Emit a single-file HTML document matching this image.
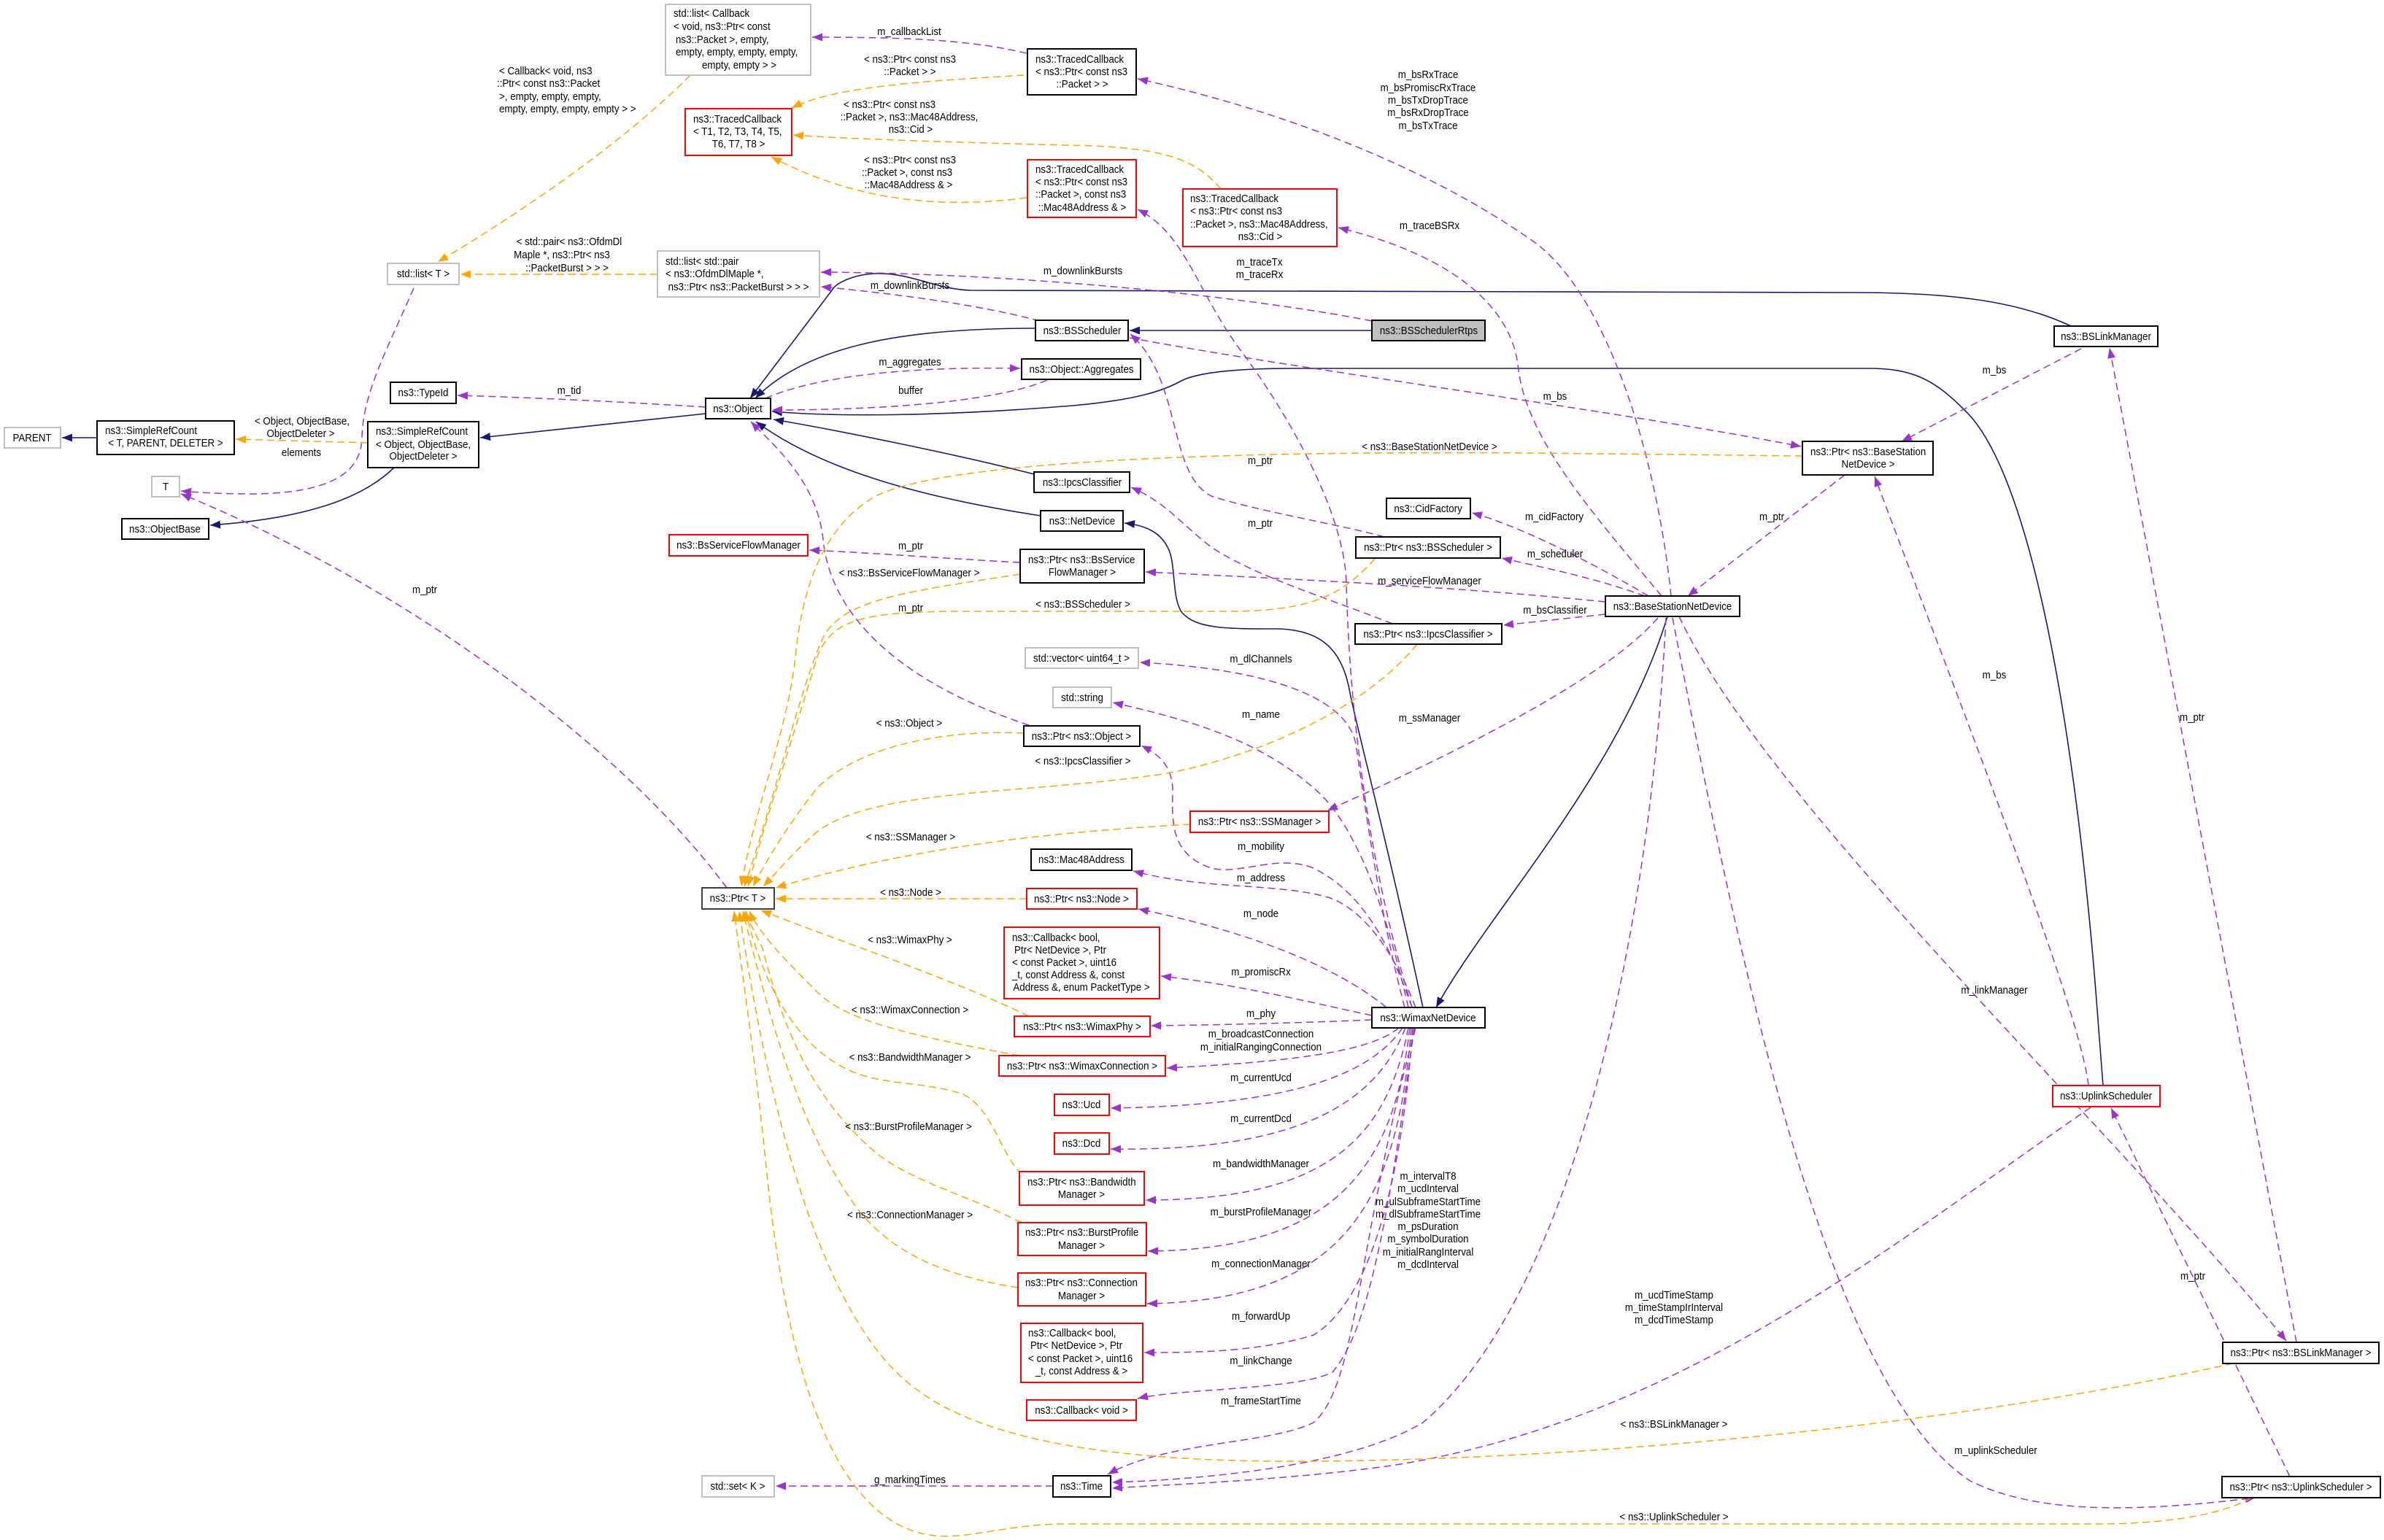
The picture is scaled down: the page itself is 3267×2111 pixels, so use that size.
<!DOCTYPE html>
<html><head><meta charset="utf-8"><style>
html,body{margin:0;padding:0;background:#fff;}
svg{display:block;}
text{font-family:"Liberation Sans",Arial,sans-serif;font-size:15px;fill:#000;}
.c{text-anchor:middle;transform-box:fill-box;transform-origin:center;transform:scaleX(.89);}
.l{text-anchor:start;transform-box:fill-box;transform-origin:left center;transform:scaleX(.89);}
.bk{fill:#fff;stroke:#000;stroke-width:2;}
.rd{fill:#fff;stroke:#ff0000;stroke-width:2;}
.gy{fill:#fff;stroke:#bfbfbf;stroke-width:2;}
.pb{fill:none;stroke:#191970;stroke-width:1.6;}
.pp{fill:none;stroke:#9a32cd;stroke-width:1.5;stroke-dasharray:10,6;}
.po{fill:none;stroke:#ffa500;stroke-width:1.5;stroke-dasharray:10,6;}
</style></head><body>
<svg width="3267" height="2111" viewBox="0 0 3267 2111" xmlns="http://www.w3.org/2000/svg">
<defs>
<marker id="mb" markerWidth="16" markerHeight="12" refX="14" refY="5.5" orient="auto" markerUnits="userSpaceOnUse"><path d="M0,0 L14,5.5 L0,11 z" fill="#191970"/></marker>
<marker id="mp" markerWidth="16" markerHeight="12" refX="14" refY="5.5" orient="auto" markerUnits="userSpaceOnUse"><path d="M0,0 L14,5.5 L0,11 z" fill="#9a32cd"/></marker>
<marker id="mo" markerWidth="16" markerHeight="12" refX="14" refY="5.5" orient="auto" markerUnits="userSpaceOnUse"><path d="M0,0 L14,5.5 L0,11 z" fill="#ffa500"/></marker>
</defs>
<rect width="3267" height="2111" fill="#fff"/>

<!-- inheritance edges -->
<g>
<path class="pb" marker-end="url(#mb)" d="M133,600 L85,600"/>
<path class="pb" marker-end="url(#mb)" d="M540,641 C490,690 400,712 288,720"/>
<path class="pb" marker-end="url(#mb)" d="M967,567 L658,600"/>
<path class="pb" marker-end="url(#mb)" d="M1419,450 C1250,450 1110,470 1035,546"/>
<path class="pb" marker-end="url(#mb)" d="M1880,453 L1548,453"/>
<path class="pb" marker-end="url(#mb)" d="M2838,447 C2760,410 2660,401 2540,401 L1330,398 C1280,396 1250,374 1200,375 C1170,376 1145,388 1140,398 L1028,546"/>
<path class="pb" marker-end="url(#mb)" d="M2882,1488 L2876,1411 C2850,1050 2790,650 2690,560 C2650,520 2620,505 2561,505 L1772,505 C1700,505 1640,510 1617,523 C1595,535 1560,548 1470,556 C1300,570 1150,572 1058,564"/>
<path class="pb" marker-end="url(#mb)" d="M1417,650 C1320,625 1150,590 1060,575"/>
<path class="pb" marker-end="url(#mb)" d="M1426,707 C1250,680 1120,640 1036,578"/>
<path class="pb" marker-end="url(#mb)" d="M1950,1381 C1900,1150 1860,1000 1850,950 C1840,890 1810,863 1750,862 C1680,862 1640,862 1620,840 C1605,820 1612,770 1600,750 C1590,730 1570,720 1541,717"/>
<path class="pb" marker-end="url(#mb)" d="M2285,845 C2220,1060 2040,1250 1968,1381"/>
</g>

<!-- usage edges -->
<g>
<path class="pp" marker-end="url(#mp)" d="M1407,73 C1330,55 1250,51 1113,51"/>
<path class="pp" marker-end="url(#mp)" d="M2290,817 C2270,620 2200,400 2100,330 C1950,225 1750,150 1559,108"/>
<path class="pp" marker-end="url(#mp)" d="M2277,817 C2180,700 2090,600 2080,500 C2070,420 1990,350 1834,312"/>
<path class="pp" marker-end="url(#mp)" d="M1935,1381 C1880,1200 1850,1000 1845,800 C1843,700 1760,560 1700,480 C1640,400 1625,320 1559,287"/>
<path class="pp" marker-end="url(#mp)" d="M1880,440 C1700,405 1400,375 1125,373"/>
<path class="pp" marker-end="url(#mp)" d="M1425,440 C1350,420 1250,405 1125,393"/>
<path class="pp" marker-end="url(#mp)" d="M1049,546 C1120,515 1250,502 1398,505"/>
<path class="pp" marker-end="url(#mp)" d="M1435,521 C1380,545 1250,562 1058,562"/>
<path class="pp" marker-end="url(#mp)" d="M967,558 C870,552 760,546 627,542"/>
<path class="pp" marker-end="url(#mp)" d="M567,395 C530,480 497,540 496,600 C495,650 450,675 351,677 C300,677 270,675 248,673"/>
<path class="pp" marker-end="url(#mp)" d="M996,1217 C850,1020 550,800 248,677"/>
<path class="pp" marker-end="url(#mp)" d="M1548,463 C1800,510 2200,560 2468,612"/>
<path class="pp" marker-end="url(#mp)" d="M2852,478 L2606,605"/>
<path class="pp" marker-end="url(#mp)" d="M2528,651 L2313,817"/>
<path class="pp" marker-end="url(#mp)" d="M2862,1488 C2850,1380 2680,950 2569,653"/>
<path class="pp" marker-end="url(#mp)" d="M3147,1840 L2891,477"/>
<path class="pp" marker-end="url(#mp)" d="M2301,845 C2420,1100 2900,1550 3133,1838"/>
<path class="pp" marker-end="url(#mp)" d="M3138,2024 L2893,1519"/>
<path class="pp" marker-end="url(#mp)" d="M2292,847 C2380,1300 2500,1900 2700,2030 C2800,2080 2950,2070 3091,2053"/>
<path class="pp" marker-end="url(#mp)" d="M2865,1518 C2600,1700 2300,1950 1900,2010 C1750,2030 1600,2035 1524,2040"/>
<path class="pp" marker-end="url(#mp)" d="M2283,847 C2260,1300 2150,1780 1950,1950 C1850,2010 1650,2028 1524,2032"/>
<path class="pp" marker-end="url(#mp)" d="M2200,825 C2000,805 1800,795 1570,784"/>
<path class="pp" marker-end="url(#mp)" d="M2254,817 C2180,790 2100,775 2058,765"/>
<path class="pp" marker-end="url(#mp)" d="M2200,842 L2060,857"/>
<path class="pp" marker-end="url(#mp)" d="M2259,817 C2180,770 2080,720 2017,703"/>
<path class="pp" marker-end="url(#mp)" d="M1897,736 C1850,722 1720,700 1660,680 C1600,650 1620,520 1549,458"/>
<path class="pp" marker-end="url(#mp)" d="M1908,855 C1820,820 1720,790 1660,750 C1620,720 1600,690 1550,668"/>
<path class="pp" marker-end="url(#mp)" d="M1410,994 C1260,945 1140,860 1128,740 C1120,660 1060,610 1029,578"/>
<path class="pp" marker-end="url(#mp)" d="M1398,771 C1300,766 1200,758 1109,754"/>
<path class="pp" marker-end="url(#mp)" d="M2272,847 C2200,930 2000,1030 1819,1111"/>
<path class="pp" marker-end="url(#mp)" d="M1925,1381 C1890,1250 1870,1100 1858,1020 C1845,950 1720,916 1562,908"/>
<path class="pp" marker-end="url(#mp)" d="M1930,1381 C1900,1250 1860,1130 1800,1080 C1720,1010 1620,985 1525,963"/>
<path class="pp" marker-end="url(#mp)" d="M1935,1381 C1900,1280 1860,1220 1800,1190 C1750,1170 1700,1200 1660,1190 C1600,1170 1607,1120 1607,1080 C1605,1050 1590,1035 1564,1022"/>
<path class="pp" marker-end="url(#mp)" d="M1940,1381 C1920,1330 1880,1250 1820,1230 C1750,1210 1650,1220 1553,1194"/>
<path class="pp" marker-end="url(#mp)" d="M1900,1381 C1850,1340 1750,1285 1560,1246"/>
<path class="pp" marker-end="url(#mp)" d="M1880,1392 C1800,1375 1700,1350 1591,1338"/>
<path class="pp" marker-end="url(#mp)" d="M1880,1398 C1780,1402 1680,1405 1577,1406"/>
<path class="pp" marker-end="url(#mp)" d="M1917,1409 C1880,1440 1780,1455 1599,1464"/>
<path class="pp" marker-end="url(#mp)" d="M1922,1409 C1880,1470 1780,1515 1522,1519"/>
<path class="pp" marker-end="url(#mp)" d="M1926,1409 C1890,1500 1800,1579 1522,1575"/>
<path class="pp" marker-end="url(#mp)" d="M1930,1409 C1900,1560 1820,1645 1570,1645"/>
<path class="pp" marker-end="url(#mp)" d="M1932,1409 C1910,1600 1830,1713 1573,1715"/>
<path class="pp" marker-end="url(#mp)" d="M1934,1409 C1915,1650 1840,1783 1572,1787"/>
<path class="pp" marker-end="url(#mp)" d="M1936,1409 C1915,1700 1850,1800 1800,1830 C1720,1855 1620,1854 1568,1854"/>
<path class="pp" marker-end="url(#mp)" d="M1938,1409 C1900,1700 1870,1830 1826,1881 C1780,1905 1620,1903 1559,1917"/>
<path class="pp" marker-end="url(#mp)" d="M1940,1409 C1860,1700 1860,1900 1800,1950 C1740,1980 1600,1975 1518,2021"/>
<path class="pp" marker-end="url(#mp)" d="M1443,2037 L1063,2037"/>
</g>

<!-- template edges -->
<g>
<path class="po" marker-end="url(#mo)" d="M946,103 C850,200 700,300 600,359"/>
<path class="po" marker-end="url(#mo)" d="M901,376 L631,376"/>
<path class="po" marker-end="url(#mo)" d="M1403,103 C1300,110 1150,115 1085,148"/>
<path class="po" marker-end="url(#mo)" d="M1673,259 C1640,220 1600,205 1500,200 C1300,195 1150,190 1087,185"/>
<path class="po" marker-end="url(#mo)" d="M1407,271 C1300,285 1180,280 1057,215"/>
<path class="po" marker-end="url(#mo)" d="M504,607 L323,602"/>
<path class="po" marker-end="url(#mo)" d="M2470,625 L2100,621 C1700,618 1300,630 1200,680 C1130,720 1100,800 1090,900 C1080,1000 1030,1120 1016,1215"/>
<path class="po" marker-end="url(#mo)" d="M1398,787 C1250,810 1160,820 1130,870 C1100,930 1060,1100 1020,1215"/>
<path class="po" marker-end="url(#mo)" d="M1884,766 C1840,815 1800,835 1700,838 L1300,838 C1180,840 1140,850 1120,900 C1090,1000 1050,1120 1025,1215"/>
<path class="po" marker-end="url(#mo)" d="M1403,1005 C1300,1000 1180,1020 1120,1080 C1080,1130 1050,1180 1032,1215"/>
<path class="po" marker-end="url(#mo)" d="M1942,883 C1880,960 1750,1030 1600,1060 C1400,1090 1200,1080 1120,1140 C1090,1165 1070,1190 1046,1215"/>
<path class="po" marker-end="url(#mo)" d="M1631,1130 C1450,1140 1250,1160 1063,1217"/>
<path class="po" marker-end="url(#mo)" d="M1407,1232 L1063,1232"/>
<path class="po" marker-end="url(#mo)" d="M1410,1393 C1300,1340 1150,1290 1043,1248"/>
<path class="po" marker-end="url(#mo)" d="M1397,1447 C1250,1420 1160,1400 1120,1360 C1080,1320 1040,1280 1027,1249"/>
<path class="po" marker-end="url(#mo)" d="M1400,1610 C1370,1580 1360,1520 1320,1500 C1260,1480 1200,1490 1150,1460 C1080,1420 1040,1330 1022,1249"/>
<path class="po" marker-end="url(#mo)" d="M1400,1676 C1330,1640 1250,1620 1200,1580 C1130,1520 1080,1440 1045,1300 L1020,1249"/>
<path class="po" marker-end="url(#mo)" d="M1395,1765 C1300,1750 1220,1720 1170,1650 C1100,1550 1060,1420 1018,1249"/>
<path class="po" marker-end="url(#mo)" d="M3060,1869 C2700,1950 2200,2000 1800,2003 C1550,2005 1350,1980 1250,1900 C1120,1800 1050,1500 1013,1249"/>
<path class="po" marker-end="url(#mo)" d="M3085,2053 C3040,2080 2950,2089 2876,2089 L1461,2089 C1380,2089 1330,2110 1280,2105 C1150,2090 1080,1900 1050,1600 C1035,1450 1012,1300 1006,1249"/>
</g>

<!-- nodes -->
<g>
<rect class="gy" x="912" y="6" width="199" height="97"/>
<rect class="rd" x="939" y="149" width="146" height="64"/>
<rect class="gy" x="531" y="361" width="98" height="29"/>
<rect class="gy" x="901" y="344" width="222" height="63"/>
<rect class="bk" x="535" y="524" width="90" height="29"/>
<rect class="bk" x="967" y="546" width="89" height="28"/>
<rect class="gy" x="6" y="586" width="77" height="28"/>
<rect class="bk" x="133" y="577" width="188" height="46"/>
<rect class="bk" x="504" y="578" width="152" height="63"/>
<rect class="gy" x="208" y="653" width="38" height="28"/>
<rect class="bk" x="167" y="711" width="119" height="28"/>
<rect class="rd" x="917" y="733" width="190" height="29"/>
<rect x="962" y="1217" width="99" height="29" fill="#fff" stroke="#404040" stroke-width="2"/>
<rect class="bk" x="1408" y="67" width="149" height="63"/>
<rect class="rd" x="1408" y="219" width="149" height="79"/>
<rect class="rd" x="1621" y="259" width="211" height="79"/>
<rect class="bk" x="1419" y="439" width="127" height="28"/>
<rect x="1880" y="439" width="155" height="28" fill="#bfbfbf" stroke="#000" stroke-width="2"/>
<rect class="bk" x="1400" y="492" width="163" height="28"/>
<rect class="bk" x="1417" y="647" width="131" height="28"/>
<rect class="bk" x="1426" y="700" width="113" height="28"/>
<rect class="bk" x="1900" y="683" width="115" height="28"/>
<rect class="bk" x="2815" y="447" width="142" height="28"/>
<rect class="bk" x="2470" y="605" width="179" height="46"/>
<rect class="bk" x="2200" y="817" width="184" height="28"/>
<rect class="bk" x="1398" y="753" width="170" height="46"/>
<rect class="bk" x="1858" y="736" width="198" height="29"/>
<rect class="bk" x="1857" y="855" width="201" height="28"/>
<rect class="gy" x="1405" y="888" width="155" height="28"/>
<rect class="gy" x="1443" y="942" width="80" height="28"/>
<rect class="bk" x="1403" y="995" width="159" height="28"/>
<rect class="rd" x="1631" y="1112" width="190" height="29"/>
<rect class="bk" x="1413" y="1164" width="138" height="29"/>
<rect class="rd" x="1407" y="1218" width="151" height="28"/>
<rect class="rd" x="1376" y="1271" width="213" height="98"/>
<rect class="bk" x="1880" y="1381" width="155" height="28"/>
<rect class="rd" x="1390" y="1393" width="186" height="28"/>
<rect class="rd" x="1369" y="1447" width="228" height="28"/>
<rect class="rd" x="1445" y="1500" width="75" height="29"/>
<rect class="rd" x="1445" y="1553" width="75" height="29"/>
<rect class="rd" x="1397" y="1606" width="171" height="46"/>
<rect class="rd" x="1395" y="1676" width="176" height="45"/>
<rect class="rd" x="1395" y="1745" width="175" height="45"/>
<rect class="rd" x="1399" y="1814" width="167" height="81"/>
<rect class="rd" x="1407" y="1919" width="150" height="28"/>
<rect class="gy" x="962" y="2023" width="99" height="29"/>
<rect class="bk" x="1443" y="2023" width="79" height="29"/>
<rect class="rd" x="2813" y="1488" width="147" height="29"/>
<rect class="bk" x="3046" y="1840" width="214" height="29"/>
<rect class="bk" x="3045" y="2024" width="217" height="29"/>
</g>

<!-- node text -->
<g>
<text class="l" x="923" y="23">std::list&lt; Callback</text>
<text class="l" x="923" y="41">&lt; void, ns3::Ptr&lt; const</text>
<text class="l" x="926" y="59">ns3::Packet &gt;, empty,</text>
<text class="l" x="926" y="76">empty, empty, empty, empty,</text>
<text class="c" x="1013" y="94">empty, empty &gt; &gt;</text>

<text class="l" x="950" y="168">ns3::TracedCallback</text>
<text class="l" x="950" y="185">&lt; T1, T2, T3, T4, T5,</text>
<text class="c" x="1012" y="202">T6, T7, T8 &gt;</text>

<text class="c" x="580" y="380">std::list&lt; T &gt;</text>

<text class="l" x="912" y="363">std::list&lt; std::pair</text>
<text class="l" x="912" y="380">&lt; ns3::OfdmDlMaple *,</text>
<text class="c" x="1012" y="398">ns3::Ptr&lt; ns3::PacketBurst &gt; &gt; &gt;</text>

<text class="c" x="580" y="543">ns3::TypeId</text>
<text class="c" x="1011" y="565">ns3::Object</text>
<text class="c" x="44" y="605">PARENT</text>
<text class="l" x="144" y="595">ns3::SimpleRefCount</text>
<text class="c" x="227" y="612">&lt; T, PARENT, DELETER &gt;</text>
<text class="l" x="515" y="596">ns3::SimpleRefCount</text>
<text class="l" x="515" y="614">&lt; Object, ObjectBase,</text>
<text class="c" x="580" y="630">ObjectDeleter &gt;</text>
<text class="c" x="227" y="672">T</text>
<text class="c" x="226" y="730">ns3::ObjectBase</text>
<text class="c" x="1012" y="752">ns3::BsServiceFlowManager</text>
<text class="c" x="1011" y="1236">ns3::Ptr&lt; T &gt;</text>

<text class="l" x="1419" y="86">ns3::TracedCallback</text>
<text class="l" x="1419" y="103">&lt; ns3::Ptr&lt; const ns3</text>
<text class="c" x="1483" y="120">::Packet &gt; &gt;</text>

<text class="l" x="1419" y="237">ns3::TracedCallback</text>
<text class="l" x="1419" y="254">&lt; ns3::Ptr&lt; const ns3</text>
<text class="l" x="1419" y="271">::Packet &gt;, const ns3</text>
<text class="c" x="1483" y="289">::Mac48Address &amp; &gt;</text>

<text class="l" x="1631" y="277">ns3::TracedCallback</text>
<text class="l" x="1631" y="294">&lt; ns3::Ptr&lt; const ns3</text>
<text class="l" x="1631" y="312">::Packet &gt;, ns3::Mac48Address,</text>
<text class="c" x="1727" y="329">ns3::Cid &gt;</text>

<text class="c" x="1483" y="458">ns3::BSScheduler</text>
<text class="c" x="1958" y="458">ns3::BSSchedulerRtps</text>
<text class="c" x="1482" y="511">ns3::Object::Aggregates</text>
<text class="c" x="1483" y="666">ns3::IpcsClassifier</text>
<text class="c" x="1483" y="719">ns3::NetDevice</text>
<text class="c" x="1957" y="702">ns3::CidFactory</text>
<text class="c" x="2886" y="466">ns3::BSLinkManager</text>
<text class="l" x="2481" y="624">ns3::Ptr&lt; ns3::BaseStation</text>
<text class="c" x="2560" y="641">NetDevice &gt;</text>
<text class="c" x="2292" y="836">ns3::BaseStationNetDevice</text>
<text class="l" x="1409" y="772">ns3::Ptr&lt; ns3::BsService</text>
<text class="c" x="1483" y="789">FlowManager &gt;</text>
<text class="c" x="1957" y="755">ns3::Ptr&lt; ns3::BSScheduler &gt;</text>
<text class="c" x="1957" y="874">ns3::Ptr&lt; ns3::IpcsClassifier &gt;</text>
<text class="c" x="1482" y="907">std::vector&lt; uint64_t &gt;</text>
<text class="c" x="1483" y="961">std::string</text>
<text class="c" x="1482" y="1014">ns3::Ptr&lt; ns3::Object &gt;</text>
<text class="c" x="1726" y="1131">ns3::Ptr&lt; ns3::SSManager &gt;</text>
<text class="c" x="1482" y="1183">ns3::Mac48Address</text>
<text class="c" x="1482" y="1237">ns3::Ptr&lt; ns3::Node &gt;</text>

<text class="l" x="1387" y="1290">ns3::Callback&lt; bool,</text>
<text class="l" x="1390" y="1307">Ptr&lt; NetDevice &gt;, Ptr</text>
<text class="l" x="1387" y="1324">&lt; const Packet &gt;, uint16</text>
<text class="l" x="1387" y="1341">_t, const Address &amp;, const</text>
<text class="c" x="1482" y="1358">Address &amp;, enum PacketType &gt;</text>

<text class="c" x="1957" y="1400">ns3::WimaxNetDevice</text>
<text class="c" x="1483" y="1412">ns3::Ptr&lt; ns3::WimaxPhy &gt;</text>
<text class="c" x="1483" y="1466">ns3::Ptr&lt; ns3::WimaxConnection &gt;</text>
<text class="c" x="1482" y="1519">ns3::Ucd</text>
<text class="c" x="1482" y="1572">ns3::Dcd</text>
<text class="l" x="1408" y="1625">ns3::Ptr&lt; ns3::Bandwidth</text>
<text class="c" x="1482" y="1642">Manager &gt;</text>
<text class="l" x="1405" y="1694">ns3::Ptr&lt; ns3::BurstProfile</text>
<text class="c" x="1482" y="1712">Manager &gt;</text>
<text class="l" x="1405" y="1763">ns3::Ptr&lt; ns3::Connection</text>
<text class="c" x="1482" y="1781">Manager &gt;</text>

<text class="l" x="1409" y="1832">ns3::Callback&lt; bool,</text>
<text class="l" x="1412" y="1849">Ptr&lt; NetDevice &gt;, Ptr</text>
<text class="l" x="1409" y="1867">&lt; const Packet &gt;, uint16</text>
<text class="c" x="1482" y="1884">_t, const Address &amp; &gt;</text>

<text class="c" x="1482" y="1938">ns3::Callback&lt; void &gt;</text>
<text class="c" x="1011" y="2042">std::set&lt; K &gt;</text>
<text class="c" x="1482" y="2042">ns3::Time</text>
<text class="c" x="2886" y="1507">ns3::UplinkScheduler</text>
<text class="c" x="3153" y="1859">ns3::Ptr&lt; ns3::BSLinkManager &gt;</text>
<text class="c" x="3153" y="2043">ns3::Ptr&lt; ns3::UplinkScheduler &gt;</text>
</g>

<!-- edge labels -->
<g>
<text class="l" x="684" y="102">&lt; Callback&lt; void, ns3</text>
<text class="l" x="681" y="119">::Ptr&lt; const ns3::Packet</text>
<text class="l" x="684" y="137">&gt;, empty, empty, empty,</text>
<text class="l" x="684" y="154">empty, empty, empty, empty &gt; &gt;</text>

<text class="c" x="780" y="336">&lt; std::pair&lt; ns3::OfdmDl</text>
<text class="c" x="770" y="354">Maple *, ns3::Ptr&lt; ns3</text>
<text class="c" x="777" y="372">::PacketBurst &gt; &gt; &gt;</text>

<text class="c" x="780" y="540">m_tid</text>
<text class="c" x="414" y="582">&lt; Object, ObjectBase,</text>
<text class="c" x="412" y="599">ObjectDeleter &gt;</text>
<text class="c" x="413" y="625">elements</text>
<text class="c" x="582" y="813">m_ptr</text>

<text class="c" x="1246" y="48">m_callbackList</text>
<text class="c" x="1247" y="86">&lt; ns3::Ptr&lt; const ns3</text>
<text class="c" x="1247" y="103">::Packet &gt; &gt;</text>
<text class="c" x="1219" y="148">&lt; ns3::Ptr&lt; const ns3</text>
<text class="c" x="1246" y="165">::Packet &gt;, ns3::Mac48Address,</text>
<text class="c" x="1248" y="182">ns3::Cid &gt;</text>
<text class="c" x="1247" y="224">&lt; ns3::Ptr&lt; const ns3</text>
<text class="c" x="1243" y="241">::Packet &gt;, const ns3</text>
<text class="c" x="1245" y="258">::Mac48Address &amp; &gt;</text>

<text class="c" x="1957" y="107">m_bsRxTrace</text>
<text class="c" x="1957" y="125">m_bsPromiscRxTrace</text>
<text class="c" x="1957" y="142">m_bsTxDropTrace</text>
<text class="c" x="1957" y="159">m_bsRxDropTrace</text>
<text class="c" x="1957" y="177">m_bsTxTrace</text>
<text class="c" x="1959" y="314">m_traceBSRx</text>
<text class="c" x="1726" y="364">m_traceTx</text>
<text class="c" x="1726" y="381">m_traceRx</text>
<text class="c" x="1484" y="376">m_downlinkBursts</text>
<text class="c" x="1247" y="396">m_downlinkBursts</text>
<text class="c" x="1247" y="501">m_aggregates</text>
<text class="c" x="1248" y="540">buffer</text>
<text class="c" x="2131" y="548">m_bs</text>
<text class="c" x="2733" y="512">m_bs</text>
<text class="c" x="1959" y="617">&lt; ns3::BaseStationNetDevice &gt;</text>
<text class="c" x="1727" y="636">m_ptr</text>
<text class="c" x="2428" y="713">m_ptr</text>
<text class="c" x="2130" y="713">m_cidFactory</text>
<text class="c" x="1727" y="722">m_ptr</text>
<text class="c" x="1248" y="753">m_ptr</text>
<text class="c" x="1246" y="790">&lt; ns3::BsServiceFlowManager &gt;</text>
<text class="c" x="2131" y="764">m_scheduler</text>
<text class="c" x="1959" y="801">m_serviceFlowManager</text>
<text class="c" x="1484" y="833">&lt; ns3::BSScheduler &gt;</text>
<text class="c" x="1248" y="838">m_ptr</text>
<text class="c" x="2131" y="841">m_bsClassifier</text>
<text class="c" x="1728" y="908">m_dlChannels</text>
<text class="c" x="2733" y="930">m_bs</text>
<text class="c" x="1728" y="984">m_name</text>
<text class="c" x="3004" y="988">m_ptr</text>
<text class="c" x="1959" y="989">m_ssManager</text>
<text class="c" x="1246" y="996">&lt; ns3::Object &gt;</text>
<text class="c" x="1484" y="1048">&lt; ns3::IpcsClassifier &gt;</text>
<text class="c" x="1248" y="1152">&lt; ns3::SSManager &gt;</text>
<text class="c" x="1728" y="1165">m_mobility</text>
<text class="c" x="1728" y="1208">m_address</text>
<text class="c" x="1248" y="1228">&lt; ns3::Node &gt;</text>
<text class="c" x="1728" y="1257">m_node</text>
<text class="c" x="1247" y="1293">&lt; ns3::WimaxPhy &gt;</text>
<text class="c" x="1728" y="1337">m_promiscRx</text>
<text class="c" x="2733" y="1362">m_linkManager</text>
<text class="c" x="1247" y="1389">&lt; ns3::WimaxConnection &gt;</text>
<text class="c" x="1728" y="1394">m_phy</text>
<text class="c" x="1728" y="1422">m_broadcastConnection</text>
<text class="c" x="1728" y="1440">m_initialRangingConnection</text>
<text class="c" x="1247" y="1454">&lt; ns3::BandwidthManager &gt;</text>
<text class="c" x="1728" y="1482">m_currentUcd</text>
<text class="c" x="1728" y="1538">m_currentDcd</text>
<text class="c" x="1245" y="1549">&lt; ns3::BurstProfileManager &gt;</text>
<text class="c" x="1728" y="1600">m_bandwidthManager</text>
<text class="c" x="1957" y="1617">m_intervalT8</text>
<text class="c" x="1957" y="1634">m_ucdInterval</text>
<text class="c" x="1957" y="1652">m_ulSubframeStartTime</text>
<text class="c" x="1957" y="1669">m_dlSubframeStartTime</text>
<text class="c" x="1957" y="1686">m_psDuration</text>
<text class="c" x="1957" y="1703">m_symbolDuration</text>
<text class="c" x="1957" y="1721">m_initialRangInterval</text>
<text class="c" x="1957" y="1738">m_dcdInterval</text>
<text class="c" x="1728" y="1666">m_burstProfileManager</text>
<text class="c" x="1247" y="1670">&lt; ns3::ConnectionManager &gt;</text>
<text class="c" x="1728" y="1737">m_connectionManager</text>
<text class="c" x="3005" y="1754">m_ptr</text>
<text class="c" x="2294" y="1780">m_ucdTimeStamp</text>
<text class="c" x="2294" y="1797">m_timeStampIrInterval</text>
<text class="c" x="2294" y="1814">m_dcdTimeStamp</text>
<text class="c" x="1728" y="1809">m_forwardUp</text>
<text class="c" x="1728" y="1870">m_linkChange</text>
<text class="c" x="1728" y="1925">m_frameStartTime</text>
<text class="c" x="2294" y="1957">&lt; ns3::BSLinkManager &gt;</text>
<text class="c" x="2735" y="1993">m_uplinkScheduler</text>
<text class="c" x="1247" y="2033">g_markingTimes</text>
<text class="c" x="2294" y="2084">&lt; ns3::UplinkScheduler &gt;</text>
</g>
</svg>
</body></html>
